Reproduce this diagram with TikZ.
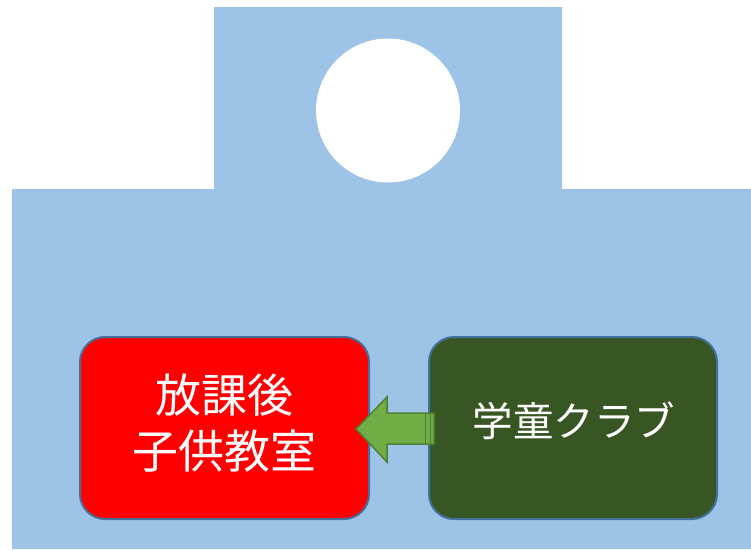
\documentclass[tikz,border=0pt]{standalone}
\usepackage{fontspec}
\newfontfamily\jp{Noto Sans CJK JP}
\definecolor{bldg}{HTML}{9DC3E6}
\definecolor{edge}{HTML}{41719C}
\definecolor{club}{HTML}{375623}
\definecolor{arrowfill}{HTML}{70AD47}
\definecolor{arrowedge}{HTML}{507E32}
\begin{document}
\begin{tikzpicture}[x=1pt,y=-1pt,
  box/.style={draw=edge,line width=2pt,rounded corners=25pt},
  label/.style={text=white,font=\jp,align=center}]
\useasboundingbox (0,0) rectangle (751,549);
% building
\fill[bldg] (12,549) -- (12,189) -- (214,189) -- (214,7) -- (562,7) -- (562,189) -- (751,189) -- (751,549) -- cycle;
\fill[white] (388,110.5) circle (72);
% boxes
\draw[box,fill=red] (80,337) rectangle (369,519);
\draw[box,fill=club] (429,337) rectangle (717,519);
\node[label,font=\jp\fontsize{46}{56}\selectfont] (kyoshitsu) at (224,423) {放課後\\子供教室};
\node[label,font=\jp\fontsize{40.5}{48}\selectfont] (club) at (574,421) {学童クラブ};
% arrow
\coordinate (tip) at (356,429);
\draw[fill=arrowfill,draw=arrowedge,line width=1.5pt,line join=miter]
  (tip) -- (387,397) -- (387,413) -- (434,413) -- (434,444) -- (387,444) -- (387,462) -- cycle;
\draw[arrowedge,line width=1pt] (425,413) -- (425,444);
\draw[arrowedge,line width=1pt] (430,413) -- (430,444);
\end{tikzpicture}
\end{document}
